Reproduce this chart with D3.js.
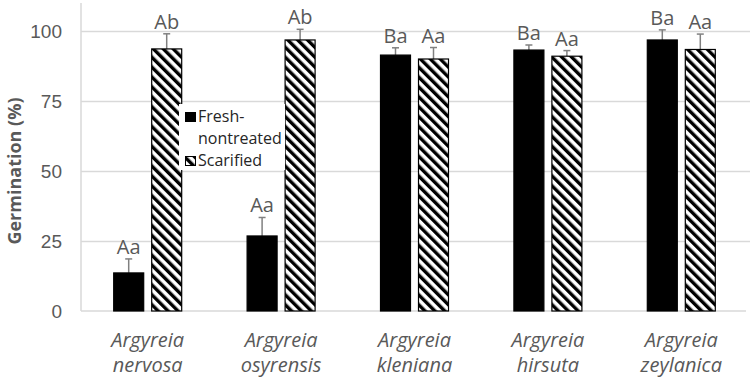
<!DOCTYPE html>
<html>
<head>
<meta charset="utf-8">
<script src="https://cdn.jsdelivr.net/npm/d3@7"></script>
<style>
  body { margin: 0; background: #fff; }
  svg { display: block; font-family: "Open Sans", sans-serif; }
</style>
</head>
<body>
<div id="chart"></div>
<script>
const species = ["nervosa", "osyrensis", "kleniana", "hirsuta", "zeylanica"];
const seriesNames = ["Fresh-nontreated", "Scarified"];
const freshValues = [13.6, 26.8, 91.4, 93.2, 96.8];
const freshErrors = [5.0, 6.6, 2.6, 1.8, 3.6];
const freshLetters = ["Aa", "Aa", "Ba", "Ba", "Ba"];
const scarValues = [93.6, 96.8, 90.0, 91.0, 93.4];
const scarErrors = [5.4, 3.8, 4.1, 2.0, 5.5];
const scarLetters = ["Ab", "Ab", "Aa", "Aa", "Aa"];
const yTicks = [0, 25, 50, 75, 100];

const width = 752, height = 379;
const margin = { top: 3, right: 4, bottom: 68, left: 81 };
const innerW = width - margin.left - margin.right;

const svg = d3.select("#chart").append("svg")
  .attr("width", width)
  .attr("height", height);

// diagonal hatch running top-left to bottom-right
const hatch = svg.append("defs").append("pattern")
  .attr("id", "hatch")
  .attr("patternUnits", "userSpaceOnUse")
  .attr("width", 7)
  .attr("height", 7)
  .attr("patternTransform", "rotate(-45)");
hatch.append("rect").attr("width", 7).attr("height", 7).attr("fill", "#fff");
hatch.append("rect").attr("width", 3.4).attr("height", 7).attr("fill", "#000");

const x = d3.scaleBand()
  .domain(species)
  .range([margin.left, margin.left + innerW]);

const y = d3.scaleLinear()
  .domain([0, 100])
  .range([311, 31]);

const barW = 30, barGap = 8;

// gridlines
svg.append("g")
  .attr("transform", `translate(${margin.left},0)`)
  .call(d3.axisLeft(y).tickValues(yTicks.slice(1)).tickSize(-innerW - 2).tickFormat(""))
  .call((g) => g.select(".domain").remove())
  .call((g) => g.selectAll("line").attr("stroke", "#d9d9d9").attr("stroke-width", 1.5));

// y tick labels
svg.append("g")
  .attr("transform", `translate(${margin.left},0)`)
  .call(d3.axisLeft(y).tickValues(yTicks).tickSize(0).tickPadding(19))
  .call((g) => g.select(".domain").remove())
  .call((g) => g.selectAll("text")
    .attr("fill", "#595959")
    .style("font-size", "19px"));

// axis lines
svg.append("line")
  .attr("x1", margin.left).attr("x2", margin.left)
  .attr("y1", margin.top).attr("y2", y(0))
  .attr("stroke", "#d9d9d9").attr("stroke-width", 1.5);
svg.append("line")
  .attr("x1", margin.left).attr("x2", margin.left + innerW - 2)
  .attr("y1", y(0)).attr("y2", y(0))
  .attr("stroke", "#d9d9d9").attr("stroke-width", 1.5);

const rows = species.map((s, i) => ({
  species: s,
  bars: [
    { kind: 0, value: freshValues[i], err: freshErrors[i], letter: freshLetters[i] },
    { kind: 1, value: scarValues[i], err: scarErrors[i], letter: scarLetters[i] }
  ]
}));

const groups = svg.selectAll("g.group")
  .data(rows)
  .enter()
  .append("g")
  .attr("class", "group")
  .attr("transform", (d) => `translate(${x(d.species) + x.bandwidth() / 2},0)`);

const bar = groups.selectAll("g.bar")
  .data((d) => d.bars)
  .enter()
  .append("g")
  .attr("class", "bar")
  .attr("transform", (d) => `translate(${d.kind === 0 ? -barW - barGap / 2 : barGap / 2},0)`);

// error bars
bar.append("line")
  .attr("x1", barW / 2).attr("x2", barW / 2)
  .attr("y1", (d) => y(d.value)).attr("y2", (d) => y(d.value + d.err))
  .attr("stroke", "#808080").attr("stroke-width", 1.5);
bar.append("line")
  .attr("x1", barW / 2 - 3.5).attr("x2", barW / 2 + 3.5)
  .attr("y1", (d) => y(d.value + d.err)).attr("y2", (d) => y(d.value + d.err))
  .attr("stroke", "#808080").attr("stroke-width", 1.5);

bar.append("rect")
  .attr("x", 0)
  .attr("width", barW)
  .attr("y", (d) => y(d.value))
  .attr("height", (d) => y(0) - y(d.value))
  .attr("fill", (d) => d.kind === 0 ? "#000" : "url(#hatch)")
  .attr("stroke", "#000")
  .attr("stroke-width", 1.2);

bar.append("text")
  .attr("x", barW / 2)
  .attr("y", (d) => y(d.value + d.err) - 5)
  .attr("text-anchor", "middle")
  .attr("fill", "#595959")
  .style("font-size", "20px")
  .text((d) => d.letter);

// x labels
const xl = svg.append("g");
species.forEach((s) => {
  const cx = x(s) + x.bandwidth() / 2;
  const t = xl.append("text")
    .attr("x", cx)
    .attr("y", 347)
    .attr("text-anchor", "middle")
    .attr("fill", "#595959")
    .style("font-size", "20px")
    .style("font-style", "italic");
  t.append("tspan").attr("x", cx).text("Argyreia");
  t.append("tspan").attr("x", cx).attr("dy", 25).text(s);
});

// y title
svg.append("text")
  .attr("transform", `translate(21,${(y(0) + y(100)) / 2}) rotate(-90)`)
  .attr("text-anchor", "middle")
  .attr("fill", "#595959")
  .style("font-size", "18px")
  .style("font-weight", "bold")
  .text("Germination (%)");

// legend
const legend = svg.append("g").attr("transform", "translate(179,104)");
legend.append("rect").attr("width", 106).attr("height", 66).attr("fill", "#fff");
legend.append("rect").attr("x", 6).attr("y", 8).attr("width", 11).attr("height", 10).attr("fill", "#000");
legend.append("text").attr("x", 19).attr("y", 18).attr("fill", "#262626").style("font-size", "16px").text("Fresh-");
legend.append("text").attr("x", 19).attr("y", 40).attr("fill", "#262626").style("font-size", "16px").text("nontreated");
legend.append("rect").attr("x", 6.5).attr("y", 52.5).attr("width", 10).attr("height", 9)
  .attr("fill", "url(#hatch)").attr("stroke", "#000").attr("stroke-width", 1);
legend.append("text").attr("x", 19).attr("y", 62).attr("fill", "#262626").style("font-size", "16px").text("Scarified");
</script>
</body>
</html>
